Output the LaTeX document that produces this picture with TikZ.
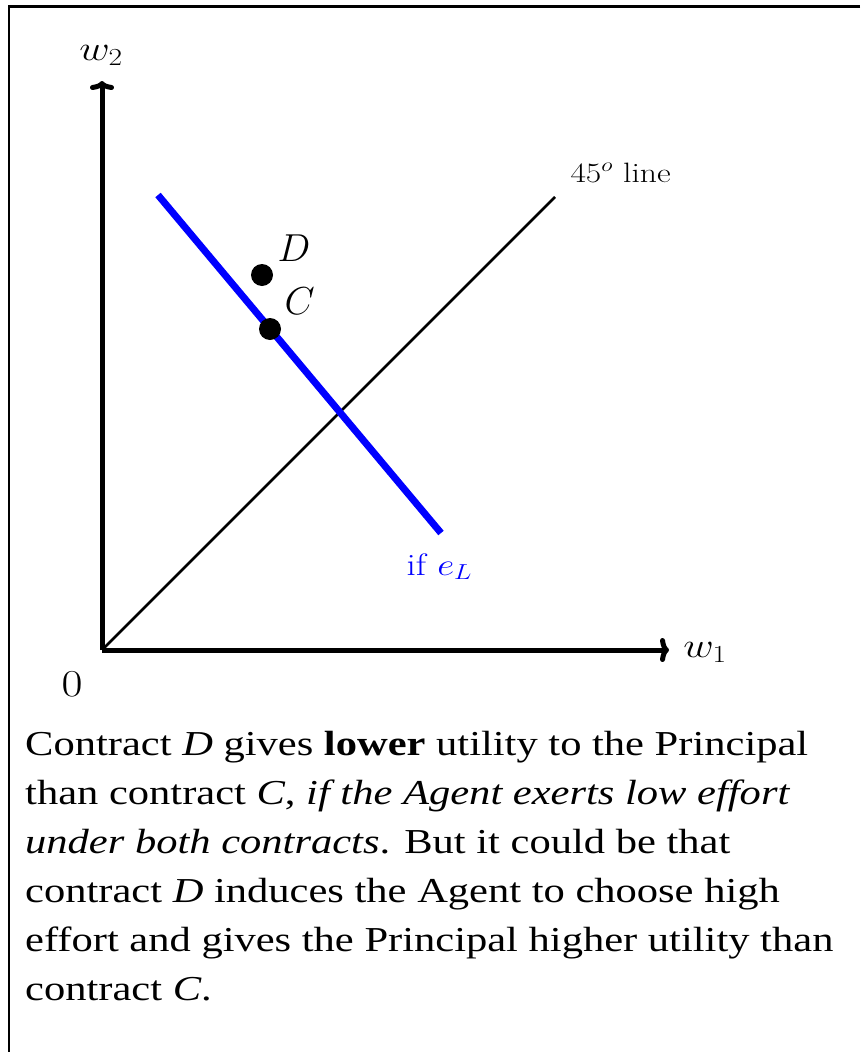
\RequirePackage{fix-cm}
\documentclass[tikz,border=0pt]{standalone}
\usepackage{fontspec}
\usepackage{graphicx}
\usepackage{tikz}
\usetikzlibrary{
  arrows.meta,
  positioning
}
\newfontfamily\captionfont[FakeStretch=1.215]{Liberation Serif}
\newcommand{\widelabel}[1]{\scalebox{1.2}[1]{#1}}
\definecolor{LineBlue}{RGB}{0, 0, 255}
\definecolor{InkBlack}{RGB}{0, 0, 0}
\tikzset{
    axisline/.style={line width=5pt, InkBlack, -{To[length=9pt,width=24pt]}},
    diagline/.style={line width=2.5pt, InkBlack},
    effortline/.style={line width=7pt, LineBlue},
    contractdot/.style={circle, fill=InkBlack, inner sep=0pt, minimum size=22pt},
    framerule/.style={line width=2.8pt, InkBlack}
}

\begin{document}
\begin{tikzpicture}[x=1pt, y=-1pt]
    \useasboundingbox (0,0) rectangle (860,1052);
    % frame
    \coordinate (frameTL) at (9,6.5);
    \coordinate (frameTR) at (860,6.5);
    \coordinate (frameBL) at (9,1052);
    \draw[framerule] (frameTR) -- (frameTL) -- (frameBL);

    % axes
    \coordinate (origin) at (102,650);
    \coordinate (xtip) at (669,650);
    \coordinate (ytip) at (102,81);
    \draw[axisline] (origin) -- (xtip);
    \draw[axisline] (origin) -- (ytip);
    \node[anchor=base] (wtwo) at (101,60) {\fontsize{35}{40}\selectfont\widelabel{$w_2$}};
    \node[anchor=base] (wone) at (705,657) {\fontsize{35}{40}\selectfont\widelabel{$w_1$}};
    \node[anchor=base] (zero) at (72,696) {\fontsize{38}{42}\selectfont\widelabel{$0$}};

    % 45 degree line
    \coordinate (diagend) at (555,197);
    \draw[diagline] (origin) -- (diagend);
    \node[anchor=base west] (diaglabel) at (567,182) {\fontsize{28}{32}\selectfont\widelabel{$45^o$ line}};

    % low effort line
    \coordinate (effortTop) at (158,195);
    \coordinate (effortBot) at (441,533);
    \draw[effortline] (effortTop) -- (effortBot);
    \node[anchor=base west, text=LineBlue] (effortlabel) at (403,575) {\fontsize{31}{34}\selectfont\widelabel{if $e_L$}};

    % contracts
    \node[contractdot] (D) at (262,275) {};
    \node[contractdot] (C) at (270,329) {};
    \node[anchor=base west] (Dlabel) at (274,261) {\fontsize{39}{42}\selectfont$D$};
    \node[anchor=base west] (Clabel) at (281,314) {\fontsize{39}{42}\selectfont$C$};

    % caption (base = last line)
    \node[anchor=base west, inner sep=0pt, align=left,
          font={\captionfont\fontsize{35}{49}\selectfont}] (caption) at (25,1000) {%
        Contract \textit{D} gives \textbf{lower} utility to the Principal\\
        than contract \textit{C}, \textit{if the Agent exerts low effort}\\
        \textit{under both contracts}. But it could be that\\
        contract \textit{D} induces the Agent to choose high\\
        effort and gives the Principal higher utility than\\
        contract \textit{C}.};
\end{tikzpicture}
\end{document}
